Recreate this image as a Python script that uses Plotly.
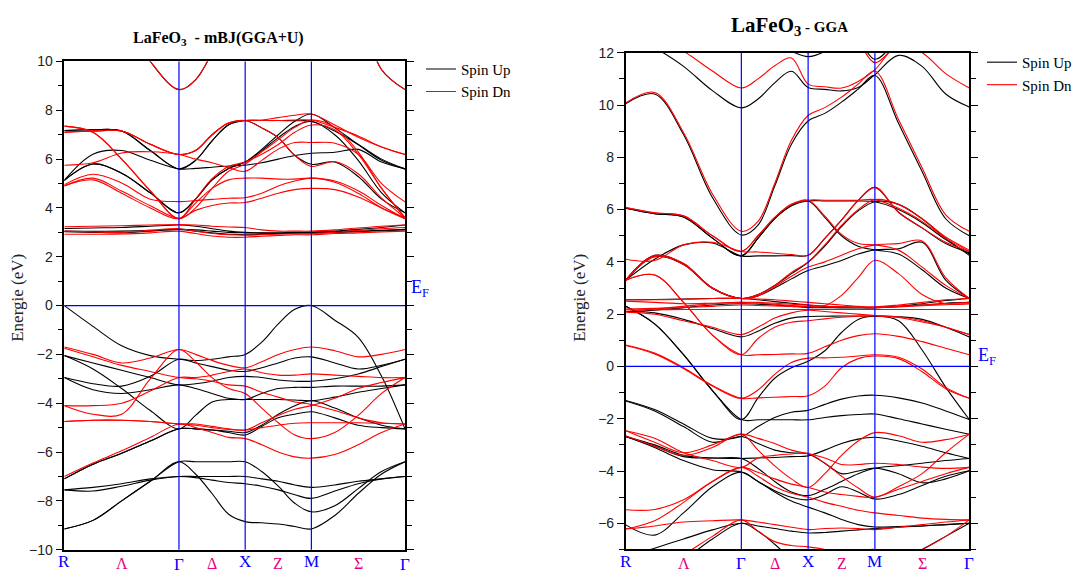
import plotly.graph_objects as go

# k-path R -> Gamma -> X -> M -> Gamma (cubic cell, units of 2*pi/a)
k_path = [0.0, 0.2165, 0.433, 0.6495, 0.866,
          0.991, 1.116, 1.241, 1.366,
          1.491, 1.616, 1.741, 1.866,
          2.0428, 2.2195, 2.3963, 2.573]
sym_k = [0.0, 0.866, 1.366, 1.866, 2.573]
sym_labels = ["R", "Γ", "X", "M", "Γ"]
line_k = [0.433, 1.116, 1.616, 2.2195]
line_labels = ["Λ", "Δ", "Z", "Σ"]

# ---- mBJ(GGA+U): spin up, conduction bands (eV)
mbj_up_cond = [
    [14.0, 13.3, 12.0, 10.0, 8.85, 9.25, 10.34, 11.5, 12.5, 13.0, 13.5, 14.0, 14.5, 13.5, 12.1, 9.66, 8.85],
    [7.17, 7.2, 7.15, 6.35, 5.6, 5.95, 6.75, 7.41, 7.58, 7.58, 7.58, 7.57, 7.55, 7.15, 6.6, 6.0, 5.6],
    [5.13, 5.8, 5.42, 4.62, 3.8, 4.36, 5.15, 5.62, 5.88, 6.35, 6.88, 7.34, 7.54, 7.0, 5.95, 4.62, 3.8],
    [5.13, 6.2, 6.35, 5.95, 5.6, 5.62, 5.67, 5.72, 5.75, 5.85, 6.0, 6.15, 6.24, 6.28, 6.4, 5.88, 5.6],
    [7.17, 7.2, 7.15, 6.35, 5.6, 5.95, 6.75, 7.41, 7.58, 7.28, 6.88, 6.15, 5.79, 5.88, 5.29, 4.36, 3.8],
    [5.13, 5.8, 5.42, 4.62, 3.8, 4.36, 5.15, 5.62, 5.88, 6.4, 7.0, 7.55, 7.85, 7.28, 6.6, 5.95, 5.6],
    [3.16, 3.18, 3.2, 3.25, 3.3, 3.25, 3.15, 3.05, 3.0, 2.98, 2.98, 3.0, 3.0, 3.05, 3.12, 3.2, 3.3],
    [3.03, 3.0, 2.98, 3.05, 3.12, 3.05, 2.98, 2.92, 2.9, 2.92, 2.95, 2.98, 3.0, 3.02, 3.05, 3.08, 3.1],
    [3.05, 3.04, 3.05, 3.08, 3.12, 3.1, 3.05, 3.0, 2.98, 2.97, 2.96, 2.97, 2.98, 3.0, 3.03, 3.07, 3.12],
]
# ---- mBJ(GGA+U): spin up, valence bands (eV)
mbj_up_val = [
    [0.0, -0.85, -1.65, -2.05, -2.2, -2.25, -2.2, -2.1, -2.0, -1.5, -0.75, -0.15, 0.0, -0.6, -1.3, -2.9, -5.05],
    [-2.05, -2.35, -2.65, -2.95, -3.25, -3.2, -3.1, -2.95, -2.9, -2.95, -3.05, -3.1, -3.1, -3.0, -2.8, -2.5, -2.2],
    [-2.05, -2.6, -3.4, -4.3, -5.05, -4.5, -3.95, -3.85, -3.85, -3.85, -3.85, -3.87, -3.9, -3.75, -3.55, -3.4, -3.25],
    [-2.95, -3.45, -3.6, -3.45, -3.25, -3.4, -3.6, -3.8, -3.85, -3.6, -3.4, -3.35, -3.35, -3.3, -3.3, -3.3, -3.25],
    [-2.95, -3.2, -3.3, -2.9, -2.2, -2.35, -2.5, -2.65, -2.7, -2.55, -2.35, -2.15, -2.1, -2.35, -2.6, -2.45, -2.2],
    [-7.1, -6.5, -6.05, -5.55, -5.05, -5.05, -5.1, -5.2, -5.3, -4.95, -4.6, -4.45, -4.35, -4.6, -4.9, -5.0, -5.05],
    [-7.1, -6.5, -6.05, -5.55, -5.05, -5.05, -5.1, -5.15, -5.2, -4.9, -4.45, -4.1, -3.9, -4.2, -4.6, -4.9, -5.05],
    [-7.55, -7.6, -7.4, -7.15, -7.0, -7.0, -7.0, -7.0, -7.0, -7.1, -7.2, -7.35, -7.45, -7.35, -7.2, -7.1, -7.0],
    [-7.55, -7.45, -7.3, -7.1, -7.0, -7.05, -7.15, -7.25, -7.3, -7.4, -7.55, -7.75, -7.9, -7.6, -7.3, -7.1, -7.0],
    [-9.15, -8.8, -8.0, -7.2, -6.4, -6.4, -6.4, -6.4, -6.4, -6.8, -7.4, -8.1, -8.45, -8.2, -7.5, -6.8, -6.4],
    [-9.15, -8.8, -8.0, -7.2, -6.4, -6.9, -7.7, -8.55, -8.85, -8.9, -8.95, -9.05, -9.15, -8.6, -7.7, -6.9, -6.4],
]
# ---- mBJ(GGA+U): spin down, conduction bands (eV)
mbj_dn_cond = [
    [14.0, 13.3, 12.0, 10.0, 8.85, 9.25, 10.34, 11.5, 12.5, 13.0, 13.5, 14.0, 14.5, 13.5, 12.1, 9.66, 8.85],
    [7.35, 7.1, 6.0, 4.7, 3.56, 4.0, 4.8, 5.5, 5.8, 6.3, 6.8, 7.3, 7.6, 7.3, 6.3, 4.8, 3.6],
    [7.1, 7.15, 7.15, 6.61, 6.19, 6.35, 7.0, 7.48, 7.58, 7.58, 7.58, 7.6, 7.6, 7.3, 6.95, 6.5, 6.19],
    [5.75, 5.85, 6.25, 6.3, 6.19, 6.0, 5.85, 5.65, 5.5, 5.95, 6.41, 6.68, 6.68, 6.65, 6.2, 5.0, 4.25],
    [4.95, 5.38, 5.02, 4.36, 4.26, 4.3, 4.35, 4.4, 4.42, 4.6, 4.9, 5.1, 5.22, 5.05, 4.6, 4.0, 3.56],
    [4.9, 5.22, 4.69, 4.09, 3.58, 3.9, 4.1, 4.2, 4.22, 4.4, 4.6, 4.75, 4.8, 4.75, 4.45, 4.0, 3.6],
    [4.9, 5.15, 4.6, 4.0, 3.56, 4.2, 4.8, 5.15, 5.22, 5.22, 5.18, 5.18, 5.22, 5.1, 4.7, 4.1, 3.56],
    [7.35, 7.1, 6.0, 4.7, 3.56, 4.36, 5.2, 5.7, 5.88, 6.2, 6.6, 7.1, 7.4, 7.2, 6.2, 4.8, 3.6],
    [7.1, 7.15, 7.15, 6.61, 6.19, 6.35, 7.0, 7.48, 7.58, 7.6, 7.7, 7.8, 7.85, 7.4, 6.9, 6.5, 6.2],
    [7.1, 7.15, 7.15, 6.61, 6.19, 6.35, 7.0, 7.48, 7.58, 7.28, 6.88, 6.15, 5.7, 5.9, 5.4, 4.4, 3.6],
    [3.23, 3.25, 3.27, 3.3, 3.32, 3.3, 3.25, 3.22, 3.2, 3.1, 3.05, 3.05, 3.05, 3.1, 3.18, 3.25, 3.3],
    [3.05, 3.02, 3.0, 3.08, 3.15, 3.05, 2.95, 2.9, 2.88, 2.9, 2.92, 2.94, 2.95, 3.0, 3.08, 3.15, 3.2],
    [2.92, 2.92, 2.93, 2.98, 3.05, 2.95, 2.85, 2.8, 2.8, 2.84, 2.87, 2.9, 2.9, 2.95, 2.98, 3.02, 3.05],
]
# ---- mBJ(GGA+U): spin down, valence bands (eV)
mbj_dn_val = [
    [-1.7, -2.0, -2.35, -2.15, -1.8, -2.0, -2.25, -2.45, -2.55, -2.3, -2.0, -1.8, -1.7, -1.85, -2.1, -2.0, -1.8],
    [-1.75, -2.1, -2.45, -2.7, -2.95, -3.0, -3.1, -3.25, -3.3, -3.55, -3.75, -3.95, -4.05, -4.3, -4.6, -4.8, -4.85],
    [-4.1, -4.45, -4.45, -3.0, -1.8, -2.3, -2.95, -3.4, -3.6, -4.2, -4.8, -5.3, -5.45, -5.2, -4.5, -3.6, -2.95],
    [-4.1, -4.1, -4.0, -3.5, -2.95, -2.95, -2.85, -2.7, -2.6, -2.75, -2.85, -2.85, -2.8, -2.85, -2.9, -2.95, -2.95],
    [-4.75, -4.7, -4.7, -4.75, -4.85, -4.85, -4.95, -5.05, -5.1, -4.8, -4.5, -4.25, -4.1, -3.8, -3.4, -3.15, -2.95],
    [-7.0, -6.45, -5.95, -5.4, -4.85, -5.0, -5.2, -5.4, -5.45, -5.7, -6.0, -6.2, -6.25, -6.1, -5.7, -5.2, -4.85],
    [-4.75, -4.7, -4.7, -4.75, -4.85, -4.9, -5.0, -5.08, -5.1, -5.0, -4.9, -4.82, -4.8, -4.8, -4.8, -4.82, -4.85],
]

# ---- GGA: spin up, conduction bands (eV)
gga_up_cond = [
    [10.05, 10.42, 8.87, 6.46, 5.03, 5.41, 6.9, 8.5, 9.39, 9.68, 10.11, 10.61, 11.13, 9.3, 7.46, 5.65, 5.0],
    [12.8, 12.2, 11.48, 10.55, 9.89, 10.23, 10.85, 11.29, 10.67, 10.6, 10.54, 10.67, 11.16, 11.9, 11.48, 10.42, 9.92],
    [14.0, 14.0, 13.5, 13.0, 12.8, 12.6, 12.3, 12.05, 11.85, 12.05, 12.5, 12.8, 13.0, 13.0, 13.5, 13.0, 12.8],
    [14.0, 14.0, 14.0, 14.0, 14.0, 14.0, 13.8, 13.5, 13.2, 13.0, 12.8, 12.5, 11.75, 12.5, 13.0, 13.5, 14.0],
    [6.05, 5.84, 5.72, 4.91, 4.23, 4.91, 5.66, 6.15, 6.33, 6.33, 6.33, 6.33, 6.3, 6.0, 5.5, 4.85, 4.3],
    [3.3, 4.1, 4.65, 4.72, 4.23, 4.23, 4.23, 4.24, 4.25, 4.9, 5.6, 6.35, 6.85, 5.9, 5.3, 4.7, 4.35],
    [3.3, 4.25, 3.92, 2.98, 2.6, 2.75, 3.1, 3.55, 3.98, 4.6, 5.35, 5.95, 6.3, 6.2, 5.65, 4.9, 4.25],
    [3.3, 4.2, 3.9, 3.0, 2.6, 2.7, 3.0, 3.35, 3.67, 3.85, 4.05, 4.3, 4.46, 4.5, 4.75, 3.3, 2.6],
    [6.05, 5.84, 5.72, 4.91, 4.23, 4.91, 5.66, 6.15, 6.33, 5.7, 5.0, 4.6, 4.46, 4.3, 3.7, 3.0, 2.6],
    [2.1, 2.15, 2.25, 2.35, 2.4, 2.38, 2.35, 2.3, 2.25, 2.25, 2.24, 2.24, 2.25, 2.3, 2.35, 2.42, 2.45],
    [2.55, 2.56, 2.58, 2.6, 2.6, 2.55, 2.48, 2.42, 2.35, 2.3, 2.28, 2.26, 2.25, 2.3, 2.4, 2.52, 2.6],
    [2.1, 2.05, 1.8, 1.45, 1.13, 1.35, 1.65, 1.85, 1.91, 1.92, 1.93, 1.93, 1.92, 1.9, 1.8, 1.5, 1.13],
]
# ---- GGA: spin up, valence bands (eV)
gga_up_val = [
    [2.3, 1.63, 0.45, -0.92, -2.03, -1.2, -0.45, -0.05, 0.2, 0.6, 1.3, 1.8, 1.92, 1.75, 0.63, -0.79, -2.03],
    [2.3, 1.63, 0.45, -0.92, -2.03, -2.04, -2.04, -2.04, -2.04, -1.95, -1.88, -1.84, -1.82, -2.0, -2.2, -2.4, -2.59],
    [-1.3, -1.65, -2.2, -2.75, -2.68, -2.3, -1.95, -1.75, -1.68, -1.45, -1.25, -1.13, -1.1, -1.2, -1.4, -1.7, -2.03],
    [-1.32, -1.7, -2.3, -2.9, -2.68, -2.95, -3.2, -3.3, -3.35, -3.7, -4.1, -4.0, -3.89, -4.1, -4.45, -4.3, -3.99],
    [-2.68, -3.05, -3.45, -3.5, -3.52, -3.5, -3.48, -3.45, -3.42, -3.2, -2.95, -2.78, -2.71, -2.85, -3.05, -3.3, -3.52],
    [-6.06, -6.45, -5.6, -4.6, -4.04, -4.4, -4.75, -5.0, -5.1, -4.9, -4.6, -4.8, -5.07, -4.9, -4.55, -4.2, -3.99],
    [-2.68, -3.1, -3.6, -3.95, -4.04, -4.4, -4.8, -5.15, -5.38, -5.6, -5.85, -6.05, -6.14, -6.12, -6.1, -6.05, -6.0],
    [-7.3, -6.95, -6.6, -6.25, -6.0, -6.1, -6.2, -6.3, -6.37, -6.35, -6.3, -6.25, -6.2, -6.15, -6.1, -6.05, -6.0],
    [-8.5, -8.0, -7.4, -6.6, -6.0, -6.3, -6.8, -7.4, -8.0, -8.2, -8.0, -7.8, -7.6, -7.4, -7.0, -6.5, -6.0],
    [-2.68, -3.0, -3.4, -3.5, -3.52, -3.9, -4.4, -4.8, -4.94, -4.7, -4.4, -4.1, -3.89, -3.8, -3.7, -3.6, -3.52],
]
# ---- GGA: spin down, conduction bands (eV)
gga_dn_cond = [
    [10.08, 10.48, 8.95, 6.6, 5.17, 5.55, 7.0, 8.65, 9.6, 9.9, 10.3, 10.8, 11.3, 9.45, 7.6, 5.8, 5.17],
    [13.0, 12.5, 12.05, 11.3, 10.65, 11.0, 11.5, 11.8, 10.8, 10.7, 10.65, 10.9, 11.35, 12.3, 12.0, 11.2, 10.65],
    [14.0, 14.0, 13.5, 13.0, 12.8, 12.6, 12.4, 12.2, 12.0, 12.2, 12.5, 12.8, 13.0, 13.0, 13.5, 13.0, 12.8],
    [14.0, 14.0, 14.0, 14.0, 14.0, 14.0, 13.8, 13.5, 13.2, 13.0, 12.8, 12.4, 11.62, 12.4, 13.0, 13.5, 14.0],
    [6.08, 5.88, 5.76, 5.0, 4.4, 5.0, 5.7, 6.2, 6.36, 6.36, 6.36, 6.36, 6.38, 6.05, 5.55, 4.9, 4.4],
    [4.1, 4.05, 4.65, 4.75, 4.4, 4.38, 4.33, 4.28, 4.25, 4.9, 5.6, 6.35, 6.85, 5.9, 5.3, 4.75, 4.4],
    [3.3, 4.25, 3.95, 3.0, 2.6, 2.75, 3.1, 3.6, 4.0, 4.65, 5.4, 6.0, 6.38, 6.2, 5.65, 4.95, 4.45],
    [3.3, 4.2, 3.9, 3.0, 2.6, 2.7, 3.05, 3.45, 3.8, 4.0, 4.25, 4.5, 4.65, 4.7, 4.8, 3.4, 2.6],
    [2.2, 2.22, 2.25, 2.3, 2.35, 2.33, 2.31, 2.3, 2.3, 2.33, 2.72, 3.4, 4.06, 3.55, 2.75, 2.4, 2.4],
    [6.08, 5.88, 5.76, 5.0, 4.4, 5.0, 5.7, 6.2, 6.36, 5.75, 5.05, 4.7, 4.65, 4.45, 3.8, 3.1, 2.6],
    [2.55, 2.55, 2.57, 2.6, 2.6, 2.58, 2.55, 2.5, 2.45, 2.4, 2.35, 2.3, 2.28, 2.35, 2.45, 2.55, 2.6],
    [2.5, 2.45, 2.4, 2.42, 2.45, 2.42, 2.38, 2.33, 2.3, 2.3, 2.28, 2.26, 2.25, 2.28, 2.32, 2.36, 2.4],
    [2.17, 2.17, 2.18, 2.18, 2.18, 2.18, 2.18, 2.18, 2.18, 2.18, 2.18, 2.18, 2.18, 2.18, 2.18, 2.18, 2.18],
    [2.1, 2.2, 2.3, 2.4, 2.45, 2.45, 2.42, 2.38, 2.35, 2.3, 2.28, 2.27, 2.25, 2.3, 2.35, 2.4, 2.45],
    [2.08, 2.0, 1.75, 1.5, 1.22, 1.5, 1.85, 2.05, 2.15, 2.1, 2.05, 2.0, 1.95, 1.9, 1.75, 1.5, 1.22],
    [3.3, 3.5, 2.45, 1.2, 0.45, 0.45, 0.46, 0.48, 0.5, 0.75, 1.0, 1.18, 1.25, 1.15, 0.95, 0.7, 0.45],
    [3.3, 3.5, 2.45, 1.2, 0.45, 1.07, 1.5, 1.69, 1.75, 1.82, 1.88, 1.92, 1.93, 1.87, 1.7, 1.5, 1.22],
]
# ---- GGA: spin down, valence bands (eV)
gga_dn_val = [
    [0.82, 0.51, -0.05, -0.73, -1.22, -1.2, -1.18, -1.15, -1.12, -0.75, -0.05, 0.3, 0.4, 0.3, -0.2, -0.85, -1.22],
    [0.8, 0.48, -0.08, -0.75, -1.22, -0.9, -0.3, 0.15, 0.32, 0.33, 0.35, 0.4, 0.45, 0.35, -0.1, -0.8, -1.22],
    [-2.46, -2.9, -3.3, -3.0, -2.59, -2.75, -2.95, -3.2, -3.33, -3.5, -3.75, -3.75, -3.7, -3.75, -3.85, -3.9, -3.86],
    [-2.65, -3.05, -3.4, -3.1, -2.59, -3.2, -3.8, -4.3, -4.63, -4.1, -3.4, -2.85, -2.53, -2.65, -2.9, -2.8, -2.59],
    [-5.48, -5.47, -5.1, -4.4, -3.86, -4.05, -4.3, -4.5, -4.63, -4.8, -4.9, -4.97, -5.0, -4.7, -4.4, -4.1, -3.86],
    [-6.22, -6.1, -5.95, -5.9, -5.87, -5.95, -6.05, -6.15, -6.24, -6.2, -6.18, -6.2, -6.24, -6.15, -6.05, -5.95, -5.87],
    [-6.22, -5.9, -5.2, -4.4, -3.86, -4.2, -4.6, -4.85, -5.0, -5.2, -5.35, -5.5, -5.6, -5.7, -5.8, -5.85, -5.87],
    [-8.0, -7.8, -7.2, -6.5, -5.87, -6.3, -6.7, -6.85, -6.9, -7.0, -7.2, -7.1, -7.0, -7.3, -7.0, -6.5, -5.87],
    [-2.46, -2.75, -3.3, -3.6, -3.86, -3.5, -3.4, -3.35, -3.33, -3.7, -4.2, -4.65, -5.0, -4.6, -4.1, -3.3, -2.59],
]

SERIF = "Liberation Serif, Times New Roman, serif"
SANS = "Liberation Sans, Arial, sans-serif"
BLUE = "#0000FF"
PINK = "#E6007E"

fig = go.Figure()


def add_bands(bands, color, xa, ya, name, legend):
    for i, e in enumerate(bands):
        fig.add_trace(go.Scatter(
            x=k_path, y=e, mode="lines", name=name,
            line=dict(color=color, width=1.1, shape="spline", smoothing=1.0),
            showlegend=(i == 0), legend=legend,
            xaxis=xa, yaxis=ya, hoverinfo="skip"))


add_bands(mbj_up_cond + mbj_up_val, "black", "x", "y", "Spin Up", "legend")
add_bands(mbj_dn_cond + mbj_dn_val, "#FF0000", "x", "y", "Spin Dn", "legend")
add_bands(gga_up_cond + gga_up_val, "black", "x2", "y2", "Spin Up", "legend2")
add_bands(gga_dn_cond + gga_dn_val, "#FF0000", "x2", "y2", "Spin Dn", "legend2")

W, H = 1088, 581


def px(x):
    return x / W


def py(y):
    return (H - y) / H


left_dom_x = [px(64.3), px(405.0)]
left_dom_y = [py(557.0), py(55.0)]
right_dom_x = [px(625.7), px(969.3)]
right_dom_y = [py(556.8), py(46.0)]

xbase = dict(range=[sym_k[0], sym_k[-1]], showticklabels=False, ticks="",
             showline=True, linecolor="black", linewidth=1.5, mirror=True,
             showgrid=False, zeroline=False)
ybase = dict(ticks="outside", ticklen=7, tickwidth=1.3, tickcolor="black",
             mirror="allticks", showline=True, linecolor="black", linewidth=1.5,
             showgrid=False, zeroline=False,
             tickfont=dict(family=SANS, size=14, color="#222"),
             minor=dict(dtick=1, ticks="outside", ticklen=5, tickwidth=1.2, tickcolor="black"))
yinner = dict(ticks="inside", ticklen=7, tickwidth=1.3, tickcolor="black",
              mirror="allticks", showline=False, showgrid=False, zeroline=False,
              showticklabels=False,
              minor=dict(dtick=1, ticks="inside", ticklen=5, tickwidth=1.2, tickcolor="black"))

fig.update_layout(
    width=W, height=H, margin=dict(l=0, r=0, t=0, b=0),
    paper_bgcolor="white", plot_bgcolor="white",
    xaxis=dict(xbase, domain=left_dom_x, anchor="y"),
    yaxis=dict(ybase, domain=left_dom_y, anchor="x", range=[-10, 10], dtick=2),
    xaxis2=dict(xbase, domain=right_dom_x, anchor="y2"),
    yaxis2=dict(ybase, domain=right_dom_y, anchor="x2", range=[-7, 12], dtick=2, tick0=0),
    yaxis3=dict(yinner, overlaying="y", anchor="x", range=[-10, 10], dtick=2),
    yaxis4=dict(yinner, overlaying="y2", anchor="x2", range=[-7, 12], dtick=2, tick0=0),
    legend=dict(x=px(421), y=py(46), xanchor="left", yanchor="top",
                bgcolor="rgba(0,0,0,0)", font=dict(family=SERIF, size=15, color="black"),
                tracegroupgap=0),
    legend2=dict(x=px(982), y=py(39), xanchor="left", yanchor="top",
                 bgcolor="rgba(0,0,0,0)", font=dict(family=SERIF, size=15, color="black"),
                 tracegroupgap=0),
)

shapes = []
for xa, ya in (("x", "y"), ("x2", "y2")):
    for kv in sym_k[1:-1]:
        shapes.append(dict(type="line", xref=xa, yref=ya + " domain", x0=kv, x1=kv, y0=0, y1=1,
                           line=dict(color=BLUE, width=1.2), layer="above"))
    shapes.append(dict(type="line", xref=xa + " domain", yref=ya, x0=0, x1=1, y0=0, y1=0,
                       line=dict(color=BLUE, width=1.2), layer="above"))
fig.update_layout(shapes=shapes)

ann = []
# high-symmetry point labels and line labels
for xa, ylab, ygam in (("x", py(569), py(572)), ("x2", py(569), py(571))):
    for kv, lab in zip(sym_k, sym_labels):
        ann.append(dict(x=kv, y=(ygam if lab == "Γ" else ylab), xref=xa, yref="paper",
                        text=lab, showarrow=False, xanchor="center", yanchor="middle",
                        font=dict(family=SERIF, size=17, color=BLUE)))
    for kv, lab in zip(line_k, line_labels):
        ann.append(dict(x=kv, y=ylab - 0.003, xref=xa, yref="paper",
                        text=lab, showarrow=False, xanchor="center", yanchor="middle",
                        font=dict(family=SERIF, size=16, color=PINK)))

# Fermi level labels
ann.append(dict(x=px(409), y=py(288), xref="paper", yref="paper", text="E<sub>F</sub>",
                showarrow=False, xanchor="left", yanchor="middle",
                font=dict(family=SERIF, size=18, color=BLUE)))
ann.append(dict(x=px(976), y=py(358), xref="paper", yref="paper", text="E<sub>F</sub>",
                showarrow=False, xanchor="left", yanchor="middle",
                font=dict(family=SERIF, size=18, color=BLUE)))

# axis titles
for xp in (18, 580):
    ann.append(dict(x=px(xp), y=py(298), xref="paper", yref="paper", text="Energie (eV)",
                    textangle=-90, showarrow=False, xanchor="center", yanchor="middle",
                    font=dict(family=SERIF, size=17, color="#222")))

# panel titles
ann.append(dict(x=px(218), y=py(31), xref="paper", yref="paper",
                text="<b>LaFeO<sub>3</sub>  - mBJ(GGA+U)</b>",
                showarrow=False, xanchor="center", yanchor="middle",
                font=dict(family=SERIF, size=16, color="black")))
ann.append(dict(x=px(789), y=py(19), xref="paper", yref="paper",
                text="<b>LaFeO<sub>3</sub><span style='font-size:15px'> - GGA</span></b>",
                showarrow=False, xanchor="center", yanchor="middle",
                font=dict(family=SERIF, size=21, color="black")))
fig.update_layout(annotations=ann)

fig.write_html("out.html")
